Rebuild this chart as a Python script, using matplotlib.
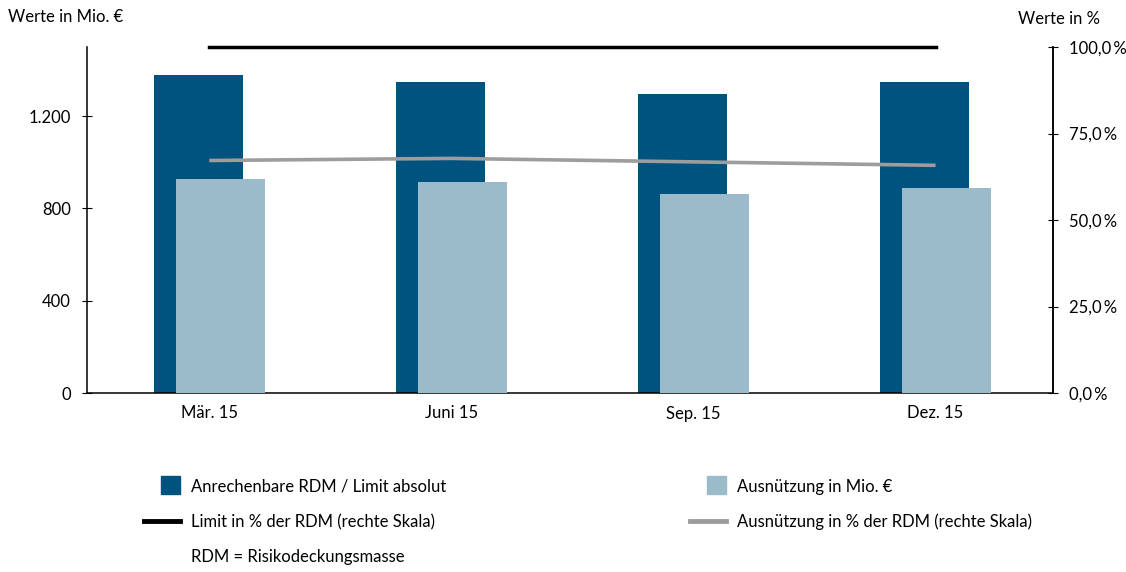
import matplotlib
matplotlib.use("Agg")
import matplotlib.pyplot as plt
from matplotlib.patches import Rectangle
from matplotlib.lines import Line2D
from matplotlib.ticker import FuncFormatter

# Data
quartale = ["Mär. 15", "Juni 15", "Sep. 15", "Dez. 15"]
rdm_limit = [1379, 1348, 1296, 1348]        # Anrechenbare RDM / Limit absolut (Mio. EUR)
ausnuetzung = [928, 915, 863, 889]          # Ausnützung in Mio. EUR
limit_pct = [100.0, 100.0, 100.0, 100.0]    # Limit in % der RDM
ausn_pct = [67.2, 67.8, 66.8, 65.8]         # Ausnützung in % der RDM

dunkelblau = "#00527F"
hellblau = "#9BBBCB"
grau = "#9D9D9D"
fs = 12

plt.rcParams["font.family"] = ["Lato", "DejaVu Sans"]
W, H = 1126, 572

fig = plt.figure(figsize=(W / 100, H / 100), dpi=100)
ax = fig.add_axes([87 / W, 1 - 393 / H, (1053 - 87) / W, (393 - 47) / H])
ax2 = ax.twinx()

x = range(len(quartale))
bw = 0.367
off = 0.0455
ax.bar([i - off for i in x], rdm_limit, width=bw, color=dunkelblau, zorder=2)
ax.bar([i + off for i in x], ausnuetzung, width=bw, color=hellblau, zorder=3)

ax2.plot(list(x), limit_pct, color="black", lw=2.5, solid_capstyle="projecting", clip_on=False)
ax2.plot(list(x), ausn_pct, color=grau, lw=2.6, solid_capstyle="butt")

ax.set_xlim(-0.505, 3.485)
ax.set_ylim(0, 1500)
ax2.set_ylim(0, 100)

ax.set_xticks(list(x))
ax.set_xticklabels(quartale, fontsize=fs)
ax.tick_params(axis="x", length=0, pad=9)
ax.set_yticks([0, 400, 800, 1200])
ax.yaxis.set_major_formatter(FuncFormatter(lambda v, p: f"{int(v):,}".replace(",", ".")))
ax.tick_params(axis="y", direction="inout", length=7, labelsize=fs, pad=8)

ax2.set_yticks([0, 25, 50, 75, 100])
ax2.yaxis.set_major_formatter(FuncFormatter(lambda v, p: f"{v:.1f}".replace(".", ",") + "\u2009%"))
ax2.tick_params(axis="y", direction="inout", length=7, labelsize=fs, pad=8)

for a in (ax, ax2):
    a.spines["top"].set_visible(False)
    for s in ("left", "right", "bottom"):
        a.spines[s].set_linewidth(1.1)
ax2.spines["left"].set_visible(False)
ax2.spines["bottom"].set_visible(False)

fig.text(8 / W, 1 - 17 / H, "Werte in Mio. €", fontsize=fs, va="center", ha="left")
fig.text(1100 / W, 1 - 19 / H, "Werte in %", fontsize=fs, va="center", ha="right")


# Legend drawn by hand in pixel positions
def fx(px):
    return px / W


def fy(py):
    return 1 - py / H


fig.add_artist(Rectangle((fx(161), fy(494)), 19 / W, 18 / H, color=dunkelblau, transform=fig.transFigure))
fig.text(fx(191), fy(487), "Anrechenbare RDM / Limit absolut", fontsize=fs, va="center")
fig.add_artist(Rectangle((fx(707), fy(494)), 19 / W, 18 / H, color=hellblau, transform=fig.transFigure))
fig.text(fx(737), fy(487), "Ausnützung in Mio. €", fontsize=fs, va="center")

fig.add_artist(Line2D([fx(144), fx(180)], [fy(521), fy(521)], color="black", lw=3.5, transform=fig.transFigure))
fig.text(fx(191), fy(522), "Limit in % der RDM (rechte Skala)", fontsize=fs, va="center")
fig.add_artist(Line2D([fx(690), fx(726)], [fy(521), fy(521)], color=grau, lw=3.5, transform=fig.transFigure))
fig.text(fx(737), fy(522), "Ausnützung in % der RDM (rechte Skala)", fontsize=fs, va="center")

fig.text(fx(191), fy(557), "RDM = Risikodeckungsmasse", fontsize=fs, va="center")

fig.savefig("out.png", dpi=100)
